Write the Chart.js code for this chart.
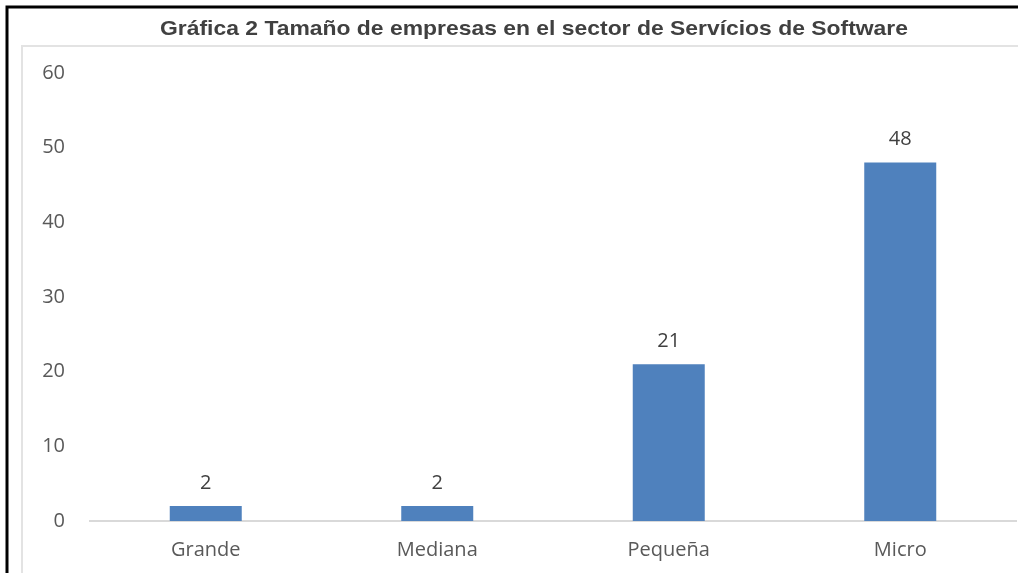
<!DOCTYPE html>
<html>
<head>
<meta charset="utf-8">
<script src="https://cdn.jsdelivr.net/npm/chart.js@4.4.0/dist/chart.umd.min.js"></script>
<style>
html,body{margin:0;padding:0;background:#fff;}
#wrap{position:relative;width:1018px;height:573px;}
</style>
</head>
<body>
<div id="wrap"><canvas id="c" width="1018" height="573"></canvas></div>
<script>
const chartTitle = 'Gráfica 2 Tamaño de empresas en el sector de Servícios de Software';
const categories = ['Grande', 'Mediana', 'Pequeña', 'Micro'];
const values = [2, 2, 21, 48];
const yTicks = [0, 10, 20, 30, 40, 50, 60];

const frame = {
  id: 'frame',
  beforeDraw(chart) {
    const ctx = chart.ctx;
    ctx.save();
    ctx.fillStyle = '#fff';
    ctx.fillRect(0, 0, chart.width, chart.height);
    // inner grey frame
    ctx.strokeStyle = '#e3e3e3';
    ctx.lineWidth = 2;
    ctx.beginPath();
    ctx.moveTo(22, chart.height);
    ctx.lineTo(22, 46);
    ctx.lineTo(chart.width, 46);
    ctx.stroke();
    // outer black frame
    ctx.strokeStyle = '#000';
    ctx.lineWidth = 3;
    ctx.beginPath();
    ctx.moveTo(7, chart.height);
    ctx.lineTo(7, 7);
    ctx.lineTo(chart.width, 7);
    ctx.stroke();
    // title (fitted to the reference width)
    ctx.fillStyle = '#404040';
    ctx.font = 'bold 21px "Liberation Sans", Arial, sans-serif';
    ctx.textAlign = 'center';
    ctx.textBaseline = 'middle';
    const w = ctx.measureText(chartTitle).width;
    ctx.translate(534, 29);
    ctx.scale(748 / w, 1);
    ctx.fillText(chartTitle, 0, 0);
    ctx.restore();
  }
};

const dataLabels = {
  id: 'dataLabels',
  afterDatasetsDraw(chart) {
    const ctx = chart.ctx;
    const meta = chart.getDatasetMeta(0);
    ctx.save();
    ctx.fillStyle = '#404040';
    ctx.font = '20px "Open Sans", sans-serif';
    ctx.textAlign = 'center';
    ctx.textBaseline = 'middle';
    meta.data.forEach((bar, i) => {
      ctx.fillText(String(values[i]), bar.x, bar.y - 23);
    });
    ctx.restore();
  }
};

new Chart(document.getElementById('c'), {
  type: 'bar',
  data: {
    labels: categories,
    datasets: [{
      data: values,
      backgroundColor: '#4F81BD',
      borderWidth: 0,
      categoryPercentage: 1,
      barPercentage: 0.311
    }]
  },
  options: {
    responsive: false,
    animation: false,
    events: [],
    layout: { padding: { top: 73, right: 2, left: 0, bottom: 0 } },
    plugins: { legend: { display: false }, title: { display: false }, tooltip: { enabled: false } },
    scales: {
      x: {
        grid: { display: false, drawTicks: false },
        border: { display: true, color: '#d9d9d9', width: 2 },
        ticks: { color: '#595959', font: { family: '"Open Sans", sans-serif', size: 20 }, padding: 17 },
        afterFit(s) { s.height = 52; }
      },
      y: {
        min: 0, max: 60,
        afterBuildTicks(s) { s.ticks = yTicks.map(v => ({ value: v })); },
        grid: { display: false, drawTicks: false },
        border: { display: false },
        ticks: { color: '#595959', font: { family: '"Open Sans", sans-serif', size: 20 }, padding: 25 },
        afterFit(s) { s.width = 90; }
      }
    }
  },
  plugins: [frame, dataLabels]
});
</script>
</body>
</html>
